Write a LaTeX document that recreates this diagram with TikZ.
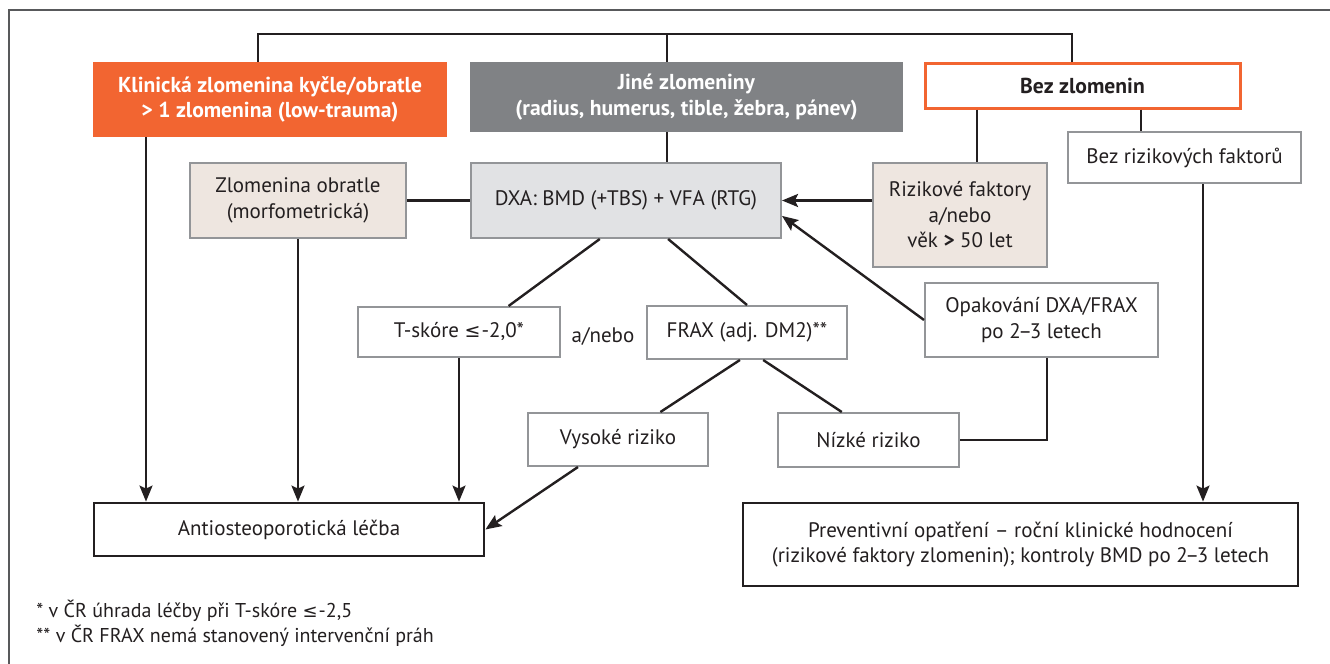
\documentclass[tikz,border=0pt]{standalone}
\usepackage{fontspec}
\setmainfont{PT Sans}
\newfontfamily\symf{DejaVu Sans}
\usetikzlibrary{arrows.meta,calc}
\definecolor{lineC}{HTML}{231F20}
\definecolor{orangeC}{HTML}{F26531}
\definecolor{grayC}{HTML}{808285}
\definecolor{beigeC}{HTML}{EEE6E0}
\definecolor{lgrayC}{HTML}{E1E2E4}
\definecolor{borderC}{HTML}{939598}
\definecolor{frameC}{HTML}{58595B}
\newcommand{\lesym}{{\symf\fontsize{9.5}{12}\selectfont ≤}}
\newcommand{\dd}{\kern-1.2pt–\kern-1.2pt}
\begin{document}
\begin{tikzpicture}[x=0.5pt,y=-0.5pt,
  font=\fontsize{10.5}{12.75}\selectfont,
  box/.style={draw=borderC, line width=1pt, fill=white, inner sep=0pt, align=center, text=lineC},
  boxk/.style={draw=lineC, line width=1.4pt, fill=white, inner sep=0pt, align=center, text=lineC},
  headbox/.style={inner sep=0pt, align=center, text=white, font=\fontsize{10.8}{12.75}\selectfont\bfseries},
  conn/.style={draw=lineC, line width=1.2pt},
  arr/.style={conn, -{Stealth[length=8pt,width=6.5pt,inset=1.5pt]}},
  note/.style={anchor=west, inner sep=0pt, text=lineC, font=\fontsize{10}{12}\selectfont}]
\useasboundingbox (0,0) rectangle (1330,664);
\draw[frameC, line width=0.7pt] (9,664) -- (9,10) -- (1330,10);

% top row
\node[headbox, fill=orangeC, minimum width=177pt, minimum height=37.5pt] (ortho) at (270,99.5) {Klinická zlomenina kyčle/obratle\\> 1 zlomenina (low-trauma)};
\node[headbox, fill=grayC, minimum width=216.5pt, minimum height=35pt] (jine) at (686.5,97) {Jiné zlomeniny\\(radius, humerus, tible, žebra, pánev)};
\node[box, draw=orangeC, line width=1.5pt, font=\fontsize{10.8}{12.75}\selectfont\bfseries, minimum width=157.5pt, minimum height=22.5pt] (bez) at (1082.5,85.5) {Bez zlomenin};

% second row
\node[box, fill=beigeC, minimum width=108pt, minimum height=37.5pt] (morf) at (298,200.5) {Zlomenina obratle\\(morfometrická)};
\node[box, fill=lgrayC, minimum width=155pt, minimum height=37.5pt] (dxa) at (626,200.5) {DXA: BMD (+TBS) + VFA (RTG)};
\node[box, fill=beigeC, minimum width=87pt, minimum height=52pt] (rizf) at (960,215) {Rizikové faktory\\a/nebo\\věk \textbf{>} 50 let};
\node[box, minimum width=116.5pt, minimum height=25.5pt] (bezrf) at (1184.5,157.5) {Bez rizikových faktorů};

% third row
\node[box, minimum width=101pt, minimum height=25pt] (tsk) at (459,332) {T-skóre \lesym\kern0.5pt-2,0*};
\node[inner sep=0pt, text=lineC] (anebo) at (603,336) {a/nebo};
\node[box, minimum width=100pt, minimum height=26.5pt] (frax) at (747,332.5) {FRAX (adj. DM2)**};
\node[box, minimum width=116.5pt, minimum height=37pt] (opak) at (1041.5,320) {Opakování DXA/FRAX\\po 2\dd3 letech};

% fourth row
\node[box, minimum width=90pt, minimum height=26.5pt] (vys) at (618,439.5) {Vysoké riziko};
\node[box, minimum width=90.5pt, minimum height=27pt] (niz) at (868.5,440) {Nízké riziko};

% bottom row
\node[boxk, minimum width=195pt, minimum height=26.5pt] (antio) at (289,529.5) {Antiosteoporotická léčba};
\node[boxk, minimum width=277.5pt, minimum height=41.5pt] (prev) at (1020.5,544.5) {Preventivní opatření – roční klinické hodnocení\\(rizikové faktory zlomenin); kontroly BMD po 2\dd3 letech};

% footnotes
\node[note] (fn1) at (36,611) {* v ČR úhrada léčby při T-skóre {\symf\fontsize{9}{11}\selectfont ≤}\kern0.5pt-2,5};
\node[note] (fn2) at (36,636) {** v ČR FRAX nemá stanovený intervenční práh};

% helper coordinates
\coordinate (b1) at (258,34);
\coordinate (b2) at (667,34);
\coordinate (b3) at (1072,34);
\coordinate (c1) at (146,0);
\coordinate (c4) at (977,0);
\coordinate (c5) at (1141,0);
\coordinate (c6) at (1203,0);

% connectors
\draw[conn] (ortho.north -| b1) -- (b1) -- (b3) -- (bez.north -| b3);
\draw[conn] (b2) -- (jine.north -| b2);
\draw[conn] (jine.south -| b2) -- (dxa.north -| b2);
\draw[conn] (morf.east) -- (dxa.west);
\draw[arr] (rizf.west |- dxa.east) -- (dxa.east);
\draw[conn] (bez.south -| c4) -- (rizf.north -| c4);
\draw[conn] (bez.south -| c5) -- (bezrf.north -| c5);
\draw[arr] (bezrf.south -| c6) -- (prev.north -| c6);
\draw[arr] (ortho.south -| c1) -- (antio.north -| c1);
\draw[arr] (morf.south) -- (morf.south |- antio.north);
\draw[arr] (tsk.south) -- (tsk.south |- antio.north);
\draw[conn] ($(dxa.south west)!0.416!(dxa.south east)$) -- ($(tsk.north west)!0.743!(tsk.north east)$);
\draw[conn] ($(dxa.south west)!0.635!(dxa.south east)$) -- (frax.north);
\draw[conn] ($(frax.south west)!0.465!(frax.south east)$) -- ($(vys.north west)!0.733!(vys.north east)$);
\draw[conn] ($(frax.south west)!0.58!(frax.south east)$) -- ($(niz.north west)!0.354!(niz.north east)$);
\draw[arr] ($(vys.south west)!0.28!(vys.south east)$) -- (antio.east);
\draw[arr] (opak.west) -- ($(dxa.north east)!0.7!(dxa.south east)$);
\draw[conn] (niz.east) -| ($(opak.south west)!0.524!(opak.south east)$);
\end{tikzpicture}
\end{document}
